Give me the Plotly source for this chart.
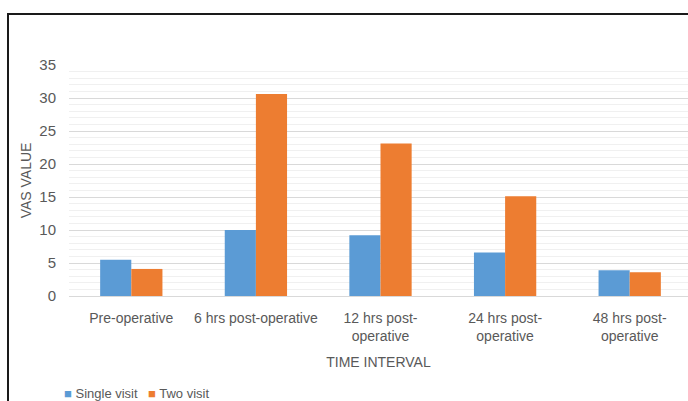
import plotly.graph_objects as go

# VAS scores by time interval for the two treatment protocols
categories = [
    "Pre-operative",
    "6 hrs post-operative",
    "12 hrs post-<br>operative",
    "24 hrs post-<br>operative",
    "48 hrs post-<br>operative",
]
single_visit = [5.5, 10.0, 9.2, 6.6, 3.9]
two_visit = [4.1, 30.6, 23.1, 15.1, 3.6]
y_ticks = [0, 5, 10, 15, 20, 25, 30, 35]
series_names = ["Single visit", "Two visit"]
series_colors = ["#5b9bd5", "#ed7d31"]

FONT = "Liberation Sans, Arial, sans-serif"
GREY = "#595959"

W, H = 688, 401
ML, MR, MT, MB = 69, 0, 65, 105
plot_w = W - ML - MR
plot_h = H - MT - MB

fig = go.Figure()
for name, vals, col in zip(series_names, [single_visit, two_visit], series_colors):
    fig.add_trace(go.Bar(name=name, x=categories, y=vals,
                         marker=dict(color=col, line=dict(width=0))))


def px_x(px):
    return (px - ML) / plot_w


def px_y(py):
    return (H - MB - py) / plot_h


# chart frame
fig.add_shape(type="rect", xref="paper", yref="paper",
              x0=px_x(8), x1=px_x(720), y0=px_y(430), y1=px_y(14),
              line=dict(color="#1a1a1a", width=2), fillcolor="rgba(0,0,0,0)",
              layer="above")

# compact legend below the chart
legend_x = [62, 146]
for name, col, lx in zip(series_names, series_colors, legend_x):
    fig.add_annotation(
        xref="paper", yref="paper", x=px_x(lx), y=px_y(393),
        xanchor="left", yanchor="middle", showarrow=False,
        text=f"<span style='color:{col}'>■</span> {name}",
        font=dict(family=FONT, size=13, color=GREY),
    )

fig.update_layout(
    width=W, height=H,
    margin=dict(l=ML, r=MR, t=MT, b=MB, autoexpand=False),
    paper_bgcolor="white", plot_bgcolor="white",
    barmode="group", bargap=0.5, bargroupgap=0,
    font=dict(family=FONT, size=14, color=GREY),
    showlegend=False,
    xaxis=dict(
        range=[-0.5, 4.5 - 4 / 124.75],
        showline=True, linecolor="#d9d9d9", linewidth=1,
        showgrid=False, ticks="", tickfont=dict(size=14, color=GREY),
        ticklabelstandoff=9,
        title=dict(text="TIME INTERVAL", font=dict(size=14, color=GREY), standoff=14),
    ),
    yaxis=dict(
        range=[0, 35], tickvals=y_ticks,
        showgrid=True, gridcolor="#d9d9d9", gridwidth=1,
        minor=dict(dtick=1, showgrid=True, gridcolor="#f0f0f0", gridwidth=1),
        zeroline=False, showline=False, ticks="",
        tickfont=dict(size=15, color=GREY), ticklabelstandoff=12,
        title=dict(text="VAS VALUE", font=dict(size=14, color=GREY), standoff=4),
    ),
)

fig.write_html("out.html")
